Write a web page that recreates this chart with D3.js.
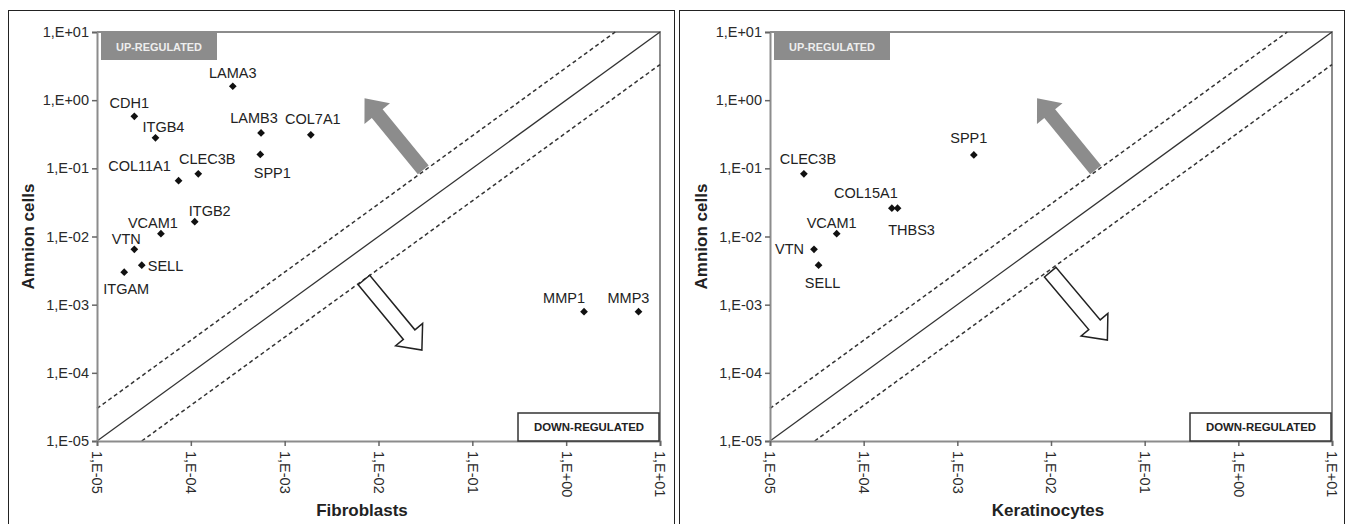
<!DOCTYPE html>
<html>
<head>
<meta charset="utf-8">
<script src="https://cdn.jsdelivr.net/npm/d3@7"></script>
<style>
  body { margin: 0; background: #fff; }
  svg text { font-family: "Liberation Sans", Arial, sans-serif; }
</style>
</head>
<body>
<svg id="chart" width="1352" height="524"></svg>
<script>
// shared log ticks for both axes
const tickValues = [1e-5, 1e-4, 1e-3, 1e-2, 1e-1, 1e0, 1e1];
const tickLabels = ["1,E-05", "1,E-04", "1,E-03", "1,E-02", "1,E-01", "1,E+00", "1,E+01"];

// fibroblasts (x) vs amnion cells (y)
const fibroGenes = ["LAMA3", "CDH1", "ITGB4", "LAMB3", "COL7A1", "SPP1", "COL11A1", "CLEC3B",
  "ITGB2", "VCAM1", "VTN", "SELL", "ITGAM", "MMP1", "MMP3"];
const fibroValues = [2.8e-4, 2.5e-5, 4.2e-5, 5.6e-4, 1.9e-3, 5.5e-4, 7.4e-5, 1.2e-4,
  1.1e-4, 4.8e-5, 2.5e-5, 3.0e-5, 1.95e-5, 1.55, 5.9];
const fibroAmnion = [1.6, 0.58, 0.28, 0.33, 0.31, 0.16, 0.066, 0.083,
  0.0165, 0.011, 0.0065, 0.0038, 0.003, 7.9e-4, 7.9e-4];

// keratinocytes (x) vs amnion cells (y)
const keraGenes = ["SPP1", "CLEC3B", "COL15A1", "THBS3", "VCAM1", "VTN", "SELL"];
const keraValues = [1.5e-3, 2.3e-5, 2.0e-4, 2.3e-4, 5.15e-5, 2.95e-5, 3.3e-5];
const keraAmnion = [0.157, 0.083, 0.026, 0.026, 0.011, 0.0065, 0.0038];

const foldBand = 3; // dashed lines at 3x / (1/3)x

// label placement (dx, dy, anchor) -- layout only
const fibroLabelPos = {
  LAMA3: [0, -13, "middle"], CDH1: [-5, -13, "middle"], ITGB4: [8, -11, "middle"],
  LAMB3: [-7, -15, "middle"], COL7A1: [2, -16, "middle"], SPP1: [12, 19, "middle"],
  COL11A1: [-39, -15, "middle"], CLEC3B: [9, -15, "middle"], ITGB2: [15, -11, "middle"],
  VCAM1: [-8, -11, "middle"], VTN: [-8, -10, "middle"], SELL: [6, 1, "start"],
  ITGAM: [2, 17, "middle"], MMP1: [-20, -14, "middle"], MMP3: [-10, -14, "middle"]
};
const keraLabelPos = {
  SPP1: [-5, -17, "middle"], CLEC3B: [4, -15, "middle"], COL15A1: [-26, -15, "middle"],
  THBS3: [14, 22, "middle"], VCAM1: [-5, -11, "middle"], VTN: [-10, 0, "end"],
  SELL: [4, 18, "middle"]
};

const svg = d3.select("#chart");
svg.append("rect").attr("width", 1352).attr("height", 524).attr("fill", "#fff");

// outer frames of both panels
svg.append("rect").attr("x", 8.5).attr("y", 10.5).attr("width", 666).attr("height", 530)
  .attr("fill", "none").attr("stroke", "#222").attr("stroke-width", 1);
svg.append("rect").attr("x", 679.5).attr("y", 10.5).attr("width", 665).attr("height", 530)
  .attr("fill", "none").attr("stroke", "#222").attr("stroke-width", 1);

function arrowPath(p0, p1, w, hw, hl) {
  const dx = p1[0] - p0[0], dy = p1[1] - p0[1], len = Math.hypot(dx, dy);
  const ux = dx / len, uy = dy / len, nx = -uy, ny = ux;
  const bx = p1[0] - ux * hl, by = p1[1] - uy * hl;
  const pts = [
    [p0[0] + nx * w / 2, p0[1] + ny * w / 2],
    [bx + nx * w / 2, by + ny * w / 2],
    [bx + nx * hw / 2, by + ny * hw / 2],
    p1,
    [bx - nx * hw / 2, by - ny * hw / 2],
    [bx - nx * w / 2, by - ny * w / 2],
    [p0[0] - nx * w / 2, p0[1] - ny * w / 2]
  ];
  return "M" + pts.map(p => p.join(",")).join("L") + "Z";
}

function drawPanel(cfg) {
  const x = d3.scaleLog().domain([1e-5, 10]).range([cfg.x0, cfg.x1]);
  const y = d3.scaleLog().domain([1e-5, 10]).range([cfg.y1, cfg.y0]);
  const g = svg.append("g");

  // frame top/right
  g.append("path")
    .attr("d", `M${cfg.x0},${cfg.y0}H${cfg.x1}V${cfg.y1}`)
    .attr("fill", "none").attr("stroke", "#8c8c8c").attr("stroke-width", 2);

  // diagonal lines
  const line = d3.line().x(d => x(d[0])).y(d => y(d[1]));
  g.append("path").attr("d", line([[1e-5, 1e-5], [10, 10]]))
    .attr("stroke", "#333").attr("stroke-width", 1.3).attr("fill", "none");
  g.append("path").attr("d", line([[1e-5, 1e-5 * foldBand], [10 / foldBand, 10]]))
    .attr("stroke", "#333").attr("stroke-width", 1.5).attr("stroke-dasharray", "4,3").attr("fill", "none");
  g.append("path").attr("d", line([[1e-5 * foldBand, 1e-5], [10, 10 / foldBand]]))
    .attr("stroke", "#333").attr("stroke-width", 1.5).attr("stroke-dasharray", "4,3").attr("fill", "none");

  // arrows
  g.append("path")
    .attr("d", arrowPath([x(cfg.upArrow[0][0]), y(cfg.upArrow[0][1])], [x(cfg.upArrow[1][0]), y(cfg.upArrow[1][1])], 14, 33, 20))
    .attr("fill", "#8c8c8c");
  g.append("path")
    .attr("d", arrowPath([x(cfg.downArrow[0][0]), y(cfg.downArrow[0][1])], [x(cfg.downArrow[1][0]), y(cfg.downArrow[1][1])], 15, 35, 20))
    .attr("fill", "#fff").attr("stroke", "#222").attr("stroke-width", 1.5);

  // axes
  const fmt = d => tickLabels[tickValues.indexOf(d)];
  const ay = g.append("g").attr("transform", `translate(${cfg.x0},0)`)
    .call(d3.axisLeft(y).tickValues(tickValues).tickFormat(fmt).tickSize(5).tickPadding(3));
  const ax = g.append("g").attr("transform", `translate(0,${cfg.y1})`)
    .call(d3.axisBottom(x).tickValues(tickValues).tickFormat(fmt).tickSize(5));
  [ax, ay].forEach(a => {
    a.select(".domain").attr("stroke", "#8c8c8c").attr("stroke-width", 2);
    a.selectAll(".tick line").attr("stroke", "#666").attr("stroke-width", 1.5);
    a.selectAll("text").attr("fill", "#2a2a2a").attr("font-size", 14.5)
      .attr("font-family", "Liberation Sans, Arial, sans-serif");
  });
  ax.selectAll(".tick text")
    .attr("transform", "rotate(90)").attr("y", 0).attr("x", 10).attr("dy", "0.35em")
    .attr("text-anchor", "start");

  // region boxes
  g.append("rect").attr("x", cfg.x0 + 4).attr("y", cfg.y0 + 1).attr("width", 116).attr("height", 27)
    .attr("fill", "#8c8c8c");
  g.append("text").attr("x", cfg.x0 + 62).attr("y", cfg.y0 + 15)
    .attr("dominant-baseline", "central").attr("text-anchor", "middle")
    .attr("font-family", "Open Sans, sans-serif").attr("font-weight", "bold").attr("font-size", 11)
    .attr("textLength", 86).attr("lengthAdjust", "spacingAndGlyphs")
    .attr("fill", "#eeeeee").text("UP-REGULATED");
  g.append("rect").attr("x", cfg.x1 - 142).attr("y", cfg.y1 - 28).attr("width", 141).attr("height", 28)
    .attr("fill", "#fff").attr("stroke", "#333").attr("stroke-width", 1.5);
  g.append("text").attr("x", cfg.x1 - 71).attr("y", cfg.y1 - 14)
    .attr("dominant-baseline", "central").attr("text-anchor", "middle")
    .attr("font-family", "Open Sans, sans-serif").attr("font-weight", "bold").attr("font-size", 11)
    .attr("textLength", 110).attr("lengthAdjust", "spacingAndGlyphs")
    .attr("fill", "#222").text("DOWN-REGULATED");

  // points
  const pts = cfg.genes.map((gene, i) => ({ gene, xv: cfg.xs[i], yv: cfg.ys[i] }));
  g.selectAll(".pt").data(pts).join("path")
    .attr("class", "pt")
    .attr("d", d3.symbol(d3.symbolSquare, 30))
    .attr("transform", d => `translate(${x(d.xv)},${y(d.yv)}) rotate(45)`)
    .attr("fill", "#111");
  g.selectAll(".lbl").data(pts).join("text")
    .attr("class", "lbl")
    .attr("x", d => x(d.xv) + cfg.labelPos[d.gene][0])
    .attr("y", d => y(d.yv) + cfg.labelPos[d.gene][1])
    .attr("text-anchor", d => cfg.labelPos[d.gene][2])
    .attr("dominant-baseline", "central")
    .attr("font-size", 14.5).attr("fill", "#222")
    .text(d => d.gene);

  // axis titles
  g.append("text")
    .attr("transform", `translate(${cfg.x0 - 69},${(cfg.y0 + cfg.y1) / 2}) rotate(-90)`)
    .attr("text-anchor", "middle").attr("dominant-baseline", "central")
    .attr("font-weight", "bold").attr("font-size", 17).attr("fill", "#222")
    .text("Amnion cells");
  g.append("text")
    .attr("x", cfg.xTitleX).attr("y", 510)
    .attr("text-anchor", "middle").attr("dominant-baseline", "central")
    .attr("font-weight", "bold").attr("font-size", 17).attr("fill", "#222")
    .text(cfg.xTitle);
}

drawPanel({
  x0: 97, x1: 660, y0: 32, y1: 441,
  genes: fibroGenes, xs: fibroValues, ys: fibroAmnion, labelPos: fibroLabelPos,
  xTitle: "Fibroblasts", xTitleX: 362,
  upArrow: [[0.03, 0.095], [0.0071, 1.07]],
  downArrow: [[0.0070, 0.0023], [0.029, 0.000216]]
});
drawPanel({
  x0: 770, x1: 1332, y0: 32, y1: 441,
  genes: keraGenes, xs: keraValues, ys: keraAmnion, labelPos: keraLabelPos,
  xTitle: "Keratinocytes", xTitleX: 1048,
  upArrow: [[0.03, 0.095], [0.0071, 1.07]],
  downArrow: [[0.0098, 0.0030], [0.040, 0.000303]]
});
</script>
</body>
</html>
